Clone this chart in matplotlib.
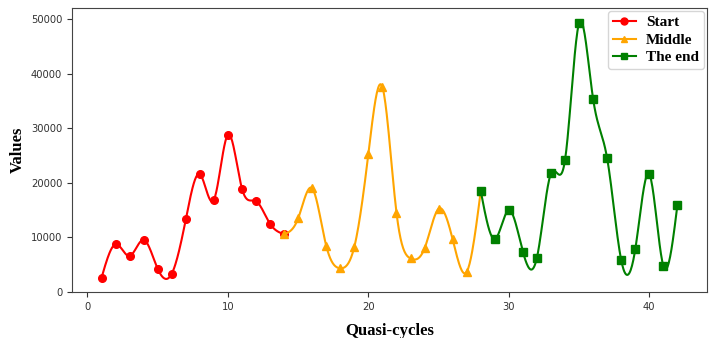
import numpy as np
import matplotlib
matplotlib.use("Agg")
import matplotlib.pyplot as plt

# values
start_x = list(range(1, 15))
start_y = [2550, 8700, 6550, 9500, 4200, 3300, 13250, 21550, 16850,
           28800, 18900, 16600, 12450, 10550]

middle_x = list(range(14, 29))
middle_y = [10550, 13450, 18950, 8400, 4300, 8250, 25300, 37500, 14500,
            6100, 7950, 15200, 9600, 3650, 18450]

end_x = list(range(28, 43))
end_y = [18450, 9650, 14950, 7350, 6250, 21700, 24150, 49250, 35350,
         24450, 5800, 7750, 21550, 4750, 15850]

series = [
    ("Start", start_x, start_y, "red", "o"),
    ("Middle", middle_x, middle_y, "orange", "^"),
    ("The end", end_x, end_y, "green", "s"),
]


def spline(x, y, n=300):
    # natural cubic spline through the points, only used to draw the line
    x = np.asarray(x, float)
    y = np.asarray(y, float)
    k = len(x)
    h = np.diff(x)
    A = np.zeros((k, k))
    b = np.zeros(k)
    A[0, 0] = A[-1, -1] = 1.0
    for i in range(1, k - 1):
        A[i, i - 1] = h[i - 1]
        A[i, i] = 2 * (h[i - 1] + h[i])
        A[i, i + 1] = h[i]
        b[i] = 6 * ((y[i + 1] - y[i]) / h[i] - (y[i] - y[i - 1]) / h[i - 1])
    M = np.linalg.solve(A, b)

    xs = np.linspace(x[0], x[-1], n)
    idx = np.clip(np.searchsorted(x, xs) - 1, 0, k - 2)
    x0, x1 = x[idx], x[idx + 1]
    hh = x1 - x0
    ys = (M[idx] * (x1 - xs) ** 3 / (6 * hh)
          + M[idx + 1] * (xs - x0) ** 3 / (6 * hh)
          + (y[idx] / hh - M[idx] * hh / 6) * (x1 - xs)
          + (y[idx + 1] / hh - M[idx + 1] * hh / 6) * (xs - x0))
    return xs, ys


serif = {"family": "Liberation Serif", "weight": "bold"}

fig = plt.figure(figsize=(7.09, 3.38), dpi=100)
ax = fig.add_axes([0.1016, 0.136, 0.8954, 0.840])

for name, xs, ys, color, marker in series:
    sx, sy = spline(xs, ys)
    ax.plot(sx, sy, color=color, lw=1.5)
    ax.plot(xs, ys, color=color, lw=0, marker=marker, ms=5.5)
    # proxy for the legend (line + marker)
    ax.plot([], [], color=color, lw=1.5, marker=marker, ms=5, label=name)

ax.set_xlim(-1.1, 44.1)
ax.set_ylim(-60, 52000)
ax.set_xticks([0, 10, 20, 30, 40])
ax.set_yticks([0, 10000, 20000, 30000, 40000, 50000])
ax.tick_params(labelsize=7.2, labelcolor="#333333", color="#333333")
for sp in ax.spines.values():
    sp.set_color("#444444")

ax.set_xlabel("Quasi-cycles", fontdict=dict(serif, size=12), labelpad=8)
ax.set_ylabel("Values", fontdict=dict(serif, size=12), labelpad=4)

ax.legend(loc="upper right", prop=dict(serif, size=11),
          handlelength=1.5, borderpad=0.3, labelspacing=0.25,
          handletextpad=0.7, borderaxespad=0.2)

fig.savefig("out.png", dpi=100)
